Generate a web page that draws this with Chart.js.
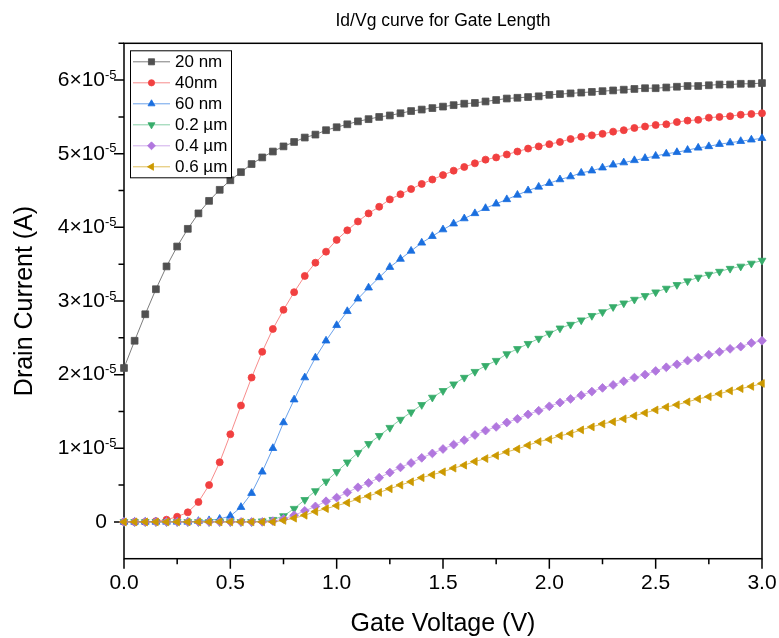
<!DOCTYPE html>
<html>
<head>
<meta charset="utf-8">
<title>Id/Vg curve for Gate Length</title>
<script src="https://cdn.jsdelivr.net/npm/chart.js@4.4.0/dist/chart.umd.min.js"></script>
<style>
  body { margin: 0; background: #fff; }
  canvas { display: block; }
</style>
</head>
<body>
<canvas id="ivChart" width="779" height="638"></canvas>
<script>
// ================= DATA =================
// gate voltage (V)
const gateVoltage = [0.00, 0.05, 0.10, 0.15, 0.20, 0.25, 0.30, 0.35, 0.40, 0.45, 0.50, 0.55, 0.60, 0.65, 0.70, 0.75, 0.80, 0.85, 0.90, 0.95,
    1.00, 1.05, 1.10, 1.15, 1.20, 1.25, 1.30, 1.35, 1.40, 1.45, 1.50, 1.55, 1.60, 1.65, 1.70, 1.75, 1.80, 1.85, 1.90, 1.95,
    2.00, 2.05, 2.10, 2.15, 2.20, 2.25, 2.30, 2.35, 2.40, 2.45, 2.50, 2.55, 2.60, 2.65, 2.70, 2.75, 2.80, 2.85, 2.90, 2.95, 3.00];

// drain current, in units of 1e-5 A
const id20nm = [2.09, 2.46, 2.82, 3.16, 3.47, 3.74, 3.98, 4.19, 4.36, 4.51, 4.64, 4.75, 4.86, 4.95, 5.03, 5.10, 5.16, 5.22, 5.26, 5.32,
    5.36, 5.40, 5.44, 5.47, 5.50, 5.52, 5.55, 5.58, 5.60, 5.62, 5.64, 5.66, 5.68, 5.69, 5.71, 5.73, 5.75, 5.76, 5.77, 5.78,
    5.80, 5.81, 5.82, 5.83, 5.84, 5.85, 5.86, 5.87, 5.88, 5.89, 5.89, 5.90, 5.91, 5.92, 5.92, 5.93, 5.94, 5.94, 5.95, 5.95, 5.96];
const id40nm = [0, 0, 0, 0.01, 0.03, 0.07, 0.13, 0.27, 0.50, 0.81, 1.19, 1.58, 1.96, 2.31, 2.62, 2.88, 3.12, 3.34, 3.52, 3.67,
    3.83, 3.96, 4.08, 4.19, 4.28, 4.38, 4.45, 4.52, 4.59, 4.65, 4.71, 4.77, 4.82, 4.87, 4.92, 4.95, 4.99, 5.03, 5.07, 5.10,
    5.13, 5.16, 5.20, 5.23, 5.25, 5.27, 5.30, 5.32, 5.35, 5.37, 5.39, 5.40, 5.43, 5.45, 5.46, 5.49, 5.50, 5.51, 5.53, 5.54, 5.55];
const id60nm = [0, 0, 0, 0, 0, 0, 0, 0.01, 0.02, 0.04, 0.08, 0.20, 0.39, 0.68, 1.00, 1.35, 1.66, 1.96, 2.23, 2.46,
    2.67, 2.86, 3.03, 3.18, 3.32, 3.46, 3.57, 3.68, 3.79, 3.88, 3.97, 4.05, 4.12, 4.19, 4.26, 4.32, 4.38, 4.44, 4.50, 4.55,
    4.60, 4.65, 4.69, 4.74, 4.77, 4.81, 4.85, 4.88, 4.91, 4.94, 4.97, 5.00, 5.02, 5.05, 5.08, 5.10, 5.13, 5.15, 5.17, 5.19, 5.21];
const id200nm = [0, 0, 0, 0, 0, 0, 0, 0, 0, 0, 0, 0, 0, 0.01, 0.03, 0.08, 0.18, 0.30, 0.42, 0.55,
    0.68, 0.81, 0.94, 1.06, 1.17, 1.28, 1.39, 1.49, 1.59, 1.69, 1.78, 1.87, 1.96, 2.04, 2.12, 2.19, 2.28, 2.35, 2.42, 2.49,
    2.56, 2.63, 2.68, 2.74, 2.80, 2.85, 2.92, 2.97, 3.02, 3.07, 3.12, 3.17, 3.22, 3.27, 3.32, 3.36, 3.40, 3.44, 3.47, 3.51, 3.55];
const id400nm = [0, 0, 0, 0, 0, 0, 0, 0, 0, 0, 0, 0, 0, 0, 0.01, 0.04, 0.09, 0.15, 0.21, 0.28,
    0.33, 0.40, 0.47, 0.53, 0.60, 0.67, 0.74, 0.80, 0.87, 0.93, 0.99, 1.05, 1.11, 1.18, 1.24, 1.29, 1.35, 1.40, 1.46, 1.51,
    1.57, 1.62, 1.67, 1.72, 1.77, 1.82, 1.86, 1.91, 1.96, 2.00, 2.05, 2.10, 2.14, 2.19, 2.23, 2.27, 2.31, 2.35, 2.38, 2.43, 2.46];
const id600nm = [0, 0, 0, 0, 0, 0, 0, 0, 0, 0, 0, 0, 0, 0, 0, 0.02, 0.05, 0.09, 0.14, 0.18,
    0.22, 0.26, 0.31, 0.35, 0.40, 0.45, 0.50, 0.545, 0.60, 0.64, 0.68, 0.73, 0.77, 0.82, 0.86, 0.90, 0.95, 0.99, 1.04, 1.09,
    1.12, 1.17, 1.20, 1.25, 1.29, 1.33, 1.36, 1.40, 1.44, 1.48, 1.52, 1.56, 1.59, 1.63, 1.67, 1.70, 1.74, 1.78, 1.81, 1.84, 1.88];

const seriesLabels = ['20 nm', '40nm', '60 nm', '0.2 µm', '0.4 µm', '0.6 µm'];
const xTicks = [0, 0.5, 1.0, 1.5, 2.0, 2.5, 3.0];
const yTicks = [0, 1, 2, 3, 4, 5, 6];   // ×10^-5
// -------------------------------------------------------

const FONT = "'Liberation Sans', Arial, sans-serif";

function makeSeries(label, values, color, lineColor, style, radius, rotation, order) {
    return {
        label: label,
        data: gateVoltage.map((v, i) => ({ x: v, y: values[i] })),
        borderColor: lineColor,
        borderWidth: 1,
        pointStyle: style,
        pointRadius: radius,
        pointRotation: rotation,
        pointBackgroundColor: color,
        pointBorderColor: color,
        pointBorderWidth: 0.8,
        order: order,
        clip: false,
        tension: 0
    };
}

// box + tick marks + y labels with exponent
const frameTicks = {
    id: 'frameTicks',
    beforeDatasetsDraw(chart) {
        const { ctx, chartArea: a, scales: { x, y } } = chart;
        ctx.save();
        ctx.strokeStyle = '#000';
        ctx.lineWidth = 1.5;
        ctx.strokeRect(a.left, a.top, a.right - a.left, a.bottom - a.top);

        ctx.beginPath();
        xTicks.forEach(v => {
            const px = x.getPixelForValue(v);
            ctx.moveTo(px, a.bottom); ctx.lineTo(px, a.bottom + 10);
        });
        xTicks.slice(0, -1).forEach(v => {
            const px = x.getPixelForValue(v + 0.25);
            ctx.moveTo(px, a.bottom); ctx.lineTo(px, a.bottom + 5.5);
        });
        yTicks.forEach(v => {
            const py = y.getPixelForValue(v);
            ctx.moveTo(a.left, py); ctx.lineTo(a.left - 10, py);
        });
        yTicks.forEach(v => {
            const py = y.getPixelForValue(v + 0.5);
            ctx.moveTo(a.left, py); ctx.lineTo(a.left - 5.5, py);
        });
        ctx.stroke();

        ctx.fillStyle = '#000';
        ctx.textBaseline = 'middle';
        yTicks.forEach(v => {
            const py = y.getPixelForValue(v);
            ctx.font = '21px ' + FONT;
            ctx.textAlign = 'right';
            if (v === 0) { ctx.fillText('0', a.left - 17, py); return; }
            ctx.fillText(v + '×10', a.left - 19, py);
            ctx.font = '13px ' + FONT;
            ctx.textAlign = 'left';
            ctx.fillText('-5', a.left - 19, py - 5);
        });
        ctx.restore();
    }
};

// legend in upper-left corner of plot
const legendBox = {
    id: 'legendBox',
    afterDatasetsDraw(chart) {
        const { ctx, chartArea: a } = chart;
        const x0 = a.left + 6, y0 = a.top + 7, w = 101, h = 127;
        ctx.save();
        ctx.fillStyle = '#fff';
        ctx.fillRect(x0, y0, w, h);
        ctx.strokeStyle = '#000';
        ctx.lineWidth = 1;
        ctx.strokeRect(x0 + 0.5, y0 + 0.5, w, h);
        chart.data.datasets.forEach((ds, i) => {
            const cy = y0 + 11.5 + i * 21;
            ctx.strokeStyle = ds.borderColor;
            ctx.lineWidth = 1;
            ctx.beginPath(); ctx.moveTo(x0 + 3, cy); ctx.lineTo(x0 + 40, cy); ctx.stroke();
            ctx.fillStyle = ds.pointBackgroundColor;
            ctx.strokeStyle = ds.pointBorderColor;
            ctx.lineWidth = 0.8;
            Chart.helpers.drawPoint(ctx, {
                pointStyle: ds.pointStyle, rotation: ds.pointRotation,
                radius: ds.pointRadius * 0.9, borderWidth: 0.8
            }, x0 + 21.5, cy);
            ctx.fillStyle = '#000';
            ctx.font = '17px ' + FONT;
            ctx.textAlign = 'left';
            ctx.textBaseline = 'middle';
            ctx.fillText(ds.label, x0 + 45, cy + 1);
        });
        ctx.restore();
    }
};

new Chart(document.getElementById('ivChart'), {
    type: 'line',
    data: {
        datasets: [
            makeSeries(seriesLabels[0], id20nm, '#505050', 'rgba(80,80,80,0.75)', 'rect', 4.8, 0, 5),
            makeSeries(seriesLabels[1], id40nm, '#f14040', 'rgba(241,64,64,0.6)', 'circle', 3.5, 0, 4),
            makeSeries(seriesLabels[2], id60nm, '#1a6fdf', 'rgba(26,111,223,0.65)', 'triangle', 4.5, 0, 3),
            makeSeries(seriesLabels[3], id200nm, '#37ad6b', 'rgba(55,173,107,0.6)', 'triangle', 4.5, 180, 2),
            makeSeries(seriesLabels[4], id400nm, '#b177de', 'rgba(177,119,222,0.6)', 'rectRot', 4.4, 0, 1),
            makeSeries(seriesLabels[5], id600nm, '#cc9900', 'rgba(204,153,0,0.65)', 'triangle', 4.5, 270, 0)
        ]
    },
    options: {
        responsive: false,
        animation: false,
        layout: { padding: { left: 0, right: 17, top: 0, bottom: 0 } },
        plugins: {
            legend: { display: false },
            tooltip: { enabled: false },
            title: {
                display: true,
                text: 'Id/Vg curve for Gate Length',
                fullSize: false,
                color: '#000',
                font: { family: FONT, size: 17.5, weight: 'normal', lineHeight: 1.2 },
                padding: { top: 11, bottom: 11.3 }
            }
        },
        scales: {
            x: {
                type: 'linear',
                min: 0, max: 3,
                afterFit: s => { s.height = 79.3; s.paddingLeft = 0; s.paddingRight = 0; },
                afterBuildTicks: s => { s.ticks = xTicks.map(v => ({ value: v })); },
                grid: { display: false, drawTicks: false },
                border: { display: false },
                ticks: {
                    color: '#000',
                    font: { family: FONT, size: 21 },
                    padding: 12,
                    maxRotation: 0,
                    autoSkip: false,
                    callback: v => Number(v).toFixed(1)
                },
                title: {
                    display: true,
                    text: 'Gate Voltage (V)',
                    color: '#000',
                    font: { family: FONT, size: 25, lineHeight: 1.1 },
                    padding: { top: 0, bottom: 0 }
                }
            },
            y: {
                min: -0.5, max: 6.5,
                afterFit: s => { s.width = 124; },
                grid: { display: false, drawTicks: false },
                border: { display: false },
                ticks: { display: false },
                title: {
                    display: true,
                    text: 'Drain Current (A)',
                    color: '#000',
                    font: { family: FONT, size: 25, lineHeight: 1.2 },
                    padding: { top: 10, bottom: 0 }
                }
            }
        }
    },
    plugins: [frameTicks, legendBox]
});
</script>
</body>
</html>
